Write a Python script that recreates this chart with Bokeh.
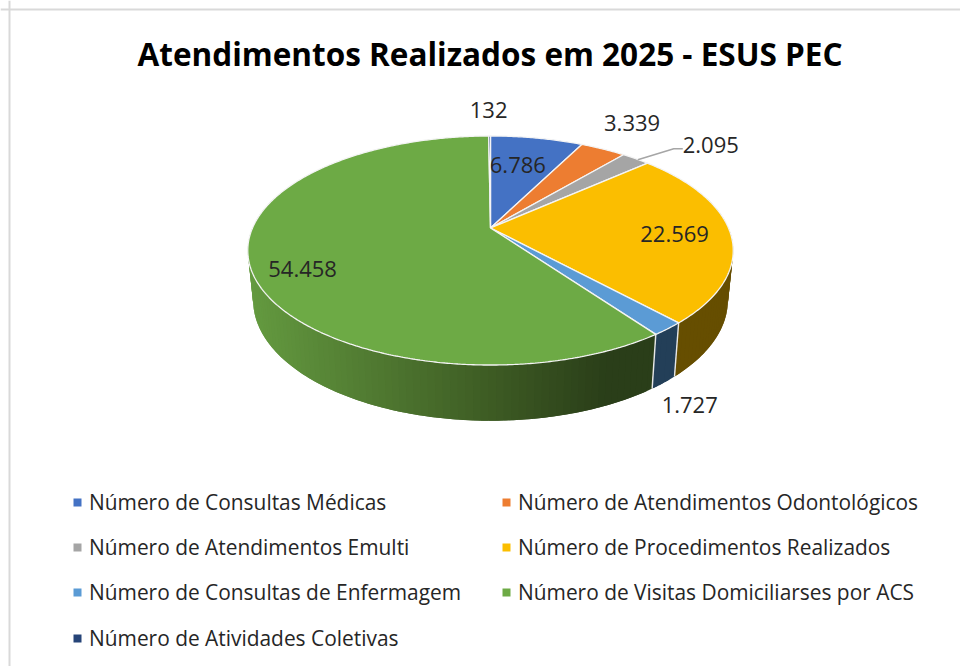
import numpy as np
from bokeh.plotting import figure
from bokeh.models import Range1d, Span
from bokeh.core.properties import value
from bokeh.embed import file_html
from bokeh.resources import INLINE

TITLE = "Atendimentos Realizados em 2025 - ESUS PEC"
categories = ["Número de Consultas Médicas", "Número de Atendimentos Odontológicos",
              "Número de Atendimentos Emulti", "Número de Procedimentos Realizados",
              "Número de Consultas de Enfermagem", "Número de Visitas Domiciliarses por ACS",
              "Número de Atividades Coletivas"]
values = [6786, 3339, 2095, 22569, 1727, 54458, 132]
colors = ["#4472C4", "#ED7D31", "#A5A5A5", "#FBBE00", "#5B9BD5", "#6DAA45", "#264478"]
side_colors = ["#29446F", "#8E4B1D", "#636363", "#664E00", "#233F58", None, "#16284A"]
label_offsets = [(-19, 27), (29, -26), (75, -14), (-56, 0), (22, 76), (53, 5), (-1, -26)]

FONT = "Open Sans"
CX, CY, A, B, K = 490.0, 227.5, 238.0, 110.1, -0.1965
X_SCALE, DEPTH_MID, DEPTH_V = 0.978, 48.0, 7.7


def top_point(theta, r=1.0):
    u, v = r * np.sin(theta), -r * np.cos(theta)
    d = 1 + K * v
    return CX + A * u / d, CY + B * v / d


def bottom_point(theta):
    x, y = top_point(theta)
    return CX + X_SCALE * (x - CX), y + DEPTH_MID + DEPTH_V * (-np.cos(theta))


def green_side(x):
    stops = np.array([250.0, 490.0, 610.0, 660.0])
    r = np.interp(x, stops, [100, 62, 42, 42])
    g = np.interp(x, stops, [154, 92, 62, 62])
    b = np.interp(x, stops, [64, 36, 25, 25])
    return "#%02x%02x%02x" % (int(r), int(g), int(b))


fracs = np.array(values) / sum(values)
edges = np.concatenate([[0], np.cumsum(fracs)]) * 2 * np.pi

p = figure(width=960, height=666, output_backend="svg", toolbar_location=None,
           x_range=Range1d(0, 960), y_range=Range1d(666, 0),
           x_axis_type=None, y_axis_type=None, min_border=0,
           outline_line_color=None, background_fill_color="white")
p.grid.visible = False
p.add_layout(Span(location=9, dimension="width", line_color="#D9D9D9", line_width=2))
p.add_layout(Span(location=9, dimension="height", line_color="#D9D9D9", line_width=2))

# side wall: overlapping strips, so no seams show between them
xs, ys, cs = [], [], []
step = np.radians(1.5)
for i, (a0, a1) in enumerate(zip(edges[:-1], edges[1:])):
    n = max(1, int((a1 - a0) / step))
    t = np.linspace(a0, a1, n + 1)
    for j, (s0, s1) in enumerate(zip(t[:-1], t[1:])):
        if -np.cos((s0 + s1) / 2) < -0.3:
            continue
        # the strip runs on towards the next one, which is painted over it
        fan = np.linspace(s0, min(s1 + step, a1), 4)
        tx, ty = top_point(fan)
        bx, by = bottom_point(fan)
        xs.append(np.r_[tx, bx[::-1]])
        ys.append(np.r_[ty, by[::-1]])
        cs.append(side_colors[i] or green_side(tx[:2].mean()))
p.patches(xs, ys, fill_color=cs, line_color=None)

# white separators on the wall
for a in edges[4:6]:
    x0, y0 = top_point(a)
    x1, y1 = bottom_point(a)
    p.line([x0, x1], [y0, y1], line_color="#E8E8E8", line_width=1.4)

# top face
for i, (a0, a1) in enumerate(zip(edges[:-1], edges[1:])):
    t = np.linspace(a0, a1, max(2, int((a1 - a0) / np.radians(0.5))) + 1)
    px, py = top_point(t)
    p.patch(np.r_[CX, px], np.r_[CY, py], fill_color=colors[i], line_color="#F4F4F4", line_width=1.3)

# data labels
for i, v in enumerate(values):
    mid = (edges[i] + edges[i + 1]) / 2
    rx, ry = top_point(mid)
    dx, dy = label_offsets[i]
    p.text([rx + dx], [ry + dy], text=[f"{v:,}".replace(",", ".")],
           text_font=value(FONT), text_font_size="22px", text_color="#262626",
           text_align="center", text_baseline="middle")

# leader line for the Emulti label
mid = (edges[2] + edges[3]) / 2
rx, ry = top_point(mid)
p.line([rx + 2, rx + 38, rx + 47], [ry + 1, ry - 10, ry - 10], line_color="#A6A6A6", line_width=1.5)

# title
p.text([489.5], [53], text=[TITLE], text_font=value(FONT), text_font_size="31.5px",
       text_font_style="bold", text_color="#000000", text_align="center", text_baseline="middle")

# legend
col_x = [77, 506]
row_y = [501, 546, 591, 637]
for i, name in enumerate(categories):
    lx, ly = col_x[i % 2], row_y[i // 2]
    p.scatter([lx], [ly + 1], marker="square", size=8, fill_color=colors[i], line_color=None)
    p.text([lx + 11.5], [ly], text=[name], text_font=value(FONT), text_font_size="20.9px",
           text_color="#262626", text_align="left", text_baseline="middle")

open("out.html", "w").write(file_html(p, INLINE))
